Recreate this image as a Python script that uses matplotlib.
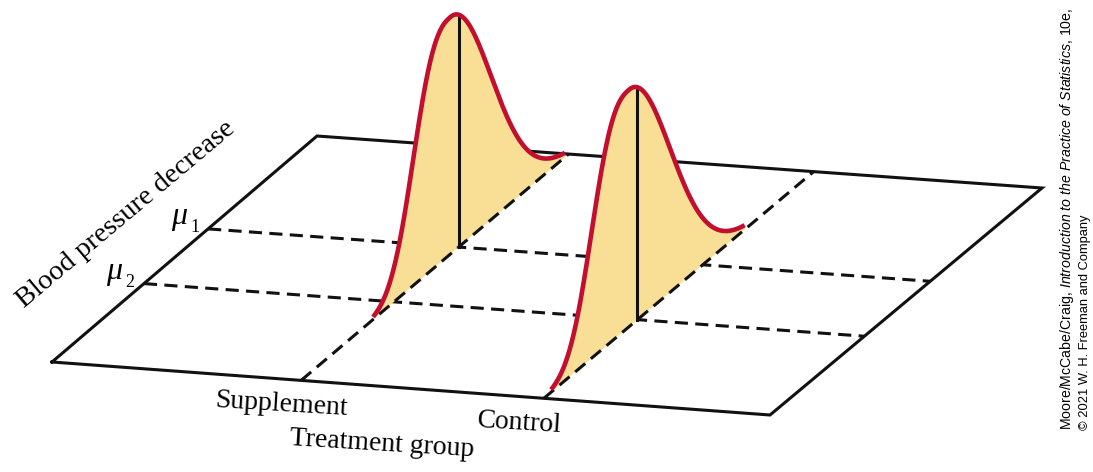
"""
Two-group comparison sketch: blood pressure decrease for Supplement vs Control,
drawn as density curves standing on an oblique (pseudo-3D) plane.
"""

import numpy as np
import matplotlib.pyplot as plt

plt.rcParams['mathtext.fontset'] = 'custom'
plt.rcParams['mathtext.rm'] = 'Liberation Sans'
plt.rcParams['mathtext.it'] = 'Liberation Sans:italic'

# ----------------------------------------------------------------------
# Data
# ----------------------------------------------------------------------
groups = ["Supplement", "Control"]
group_pos = [0.347, 0.685]        # position along the treatment-group axis
mu_names = ["1", "2"]
mu_pos = [0.589, 0.347]           # position along the blood-pressure axis
group_mu = [0, 1]                 # which mean each group's curve is centred on

peak_height = 237.0               # curve height (pixels on the page)
mode_shift = -0.03                # the drawn bump leans a little to the left
spread_left, power_left = 0.166, 2.7
sigma_right = 0.151
t_min, t_max = -0.32, 0.3975      # extent of each curve along the BP axis

# corners of the ground plane (page pixels, y down)
BL, BR = np.array([52.0, 362.0]), np.array([770.0, 415.0])
TL, TR = np.array([317.0, 136.0]), np.array([1042.0, 188.0])

RED = "#C20E2F"
FILL = "#F9DE96"
INK = "#111111"


def plane(u, v):
    """Bilinear map of plane coords (u, v) in [0, 1] onto the page."""
    u = np.asarray(u, float)[..., None]
    v = np.asarray(v, float)[..., None]
    p = (1 - u) * (1 - v) * BL + u * (1 - v) * BR + (1 - u) * v * TL + u * v * TR
    return p[..., 0], p[..., 1]


def bell(t):
    tau = np.asarray(t, float) - mode_shift
    left = np.exp(-(np.abs(tau) / spread_left) ** power_left)
    right = np.exp(-0.5 * (tau / sigma_right) ** 2)
    return peak_height * np.where(tau < 0, left, right)


fig = plt.figure(figsize=(10.93, 4.72), dpi=100)
ax = fig.add_axes([0, 0, 1, 1])
ax.set_xlim(0, 1093)
ax.set_ylim(472, 0)
ax.axis("off")

# ground plane outline
cx, cy = plane([0, 1, 1, 0, 0], [0, 0, 1, 1, 0])
ax.plot(cx, cy, color=INK, lw=2.2, solid_joinstyle="miter", zorder=1)

# mean lines across the plane (behind the curves)
for m in mu_pos:
    x, y = plane([0, 1], [m, m])
    ax.plot(x, y, color=INK, lw=2.2, dashes=(4.3, 2.4), zorder=1)

# group lines along the plane (drawn over the fills)
for g in group_pos:
    x, y = plane([g, g], [0, 1])
    ax.plot(x, y, color=INK, lw=2.2, dashes=(4.3, 2.4), zorder=3)

# density curves
t = np.linspace(t_min, t_max, 400)
for g, k in zip(group_pos, group_mu):
    m = mu_pos[k]
    bx, by = plane(np.full_like(t, g), m + t)
    z = bell(t)
    ax.fill(np.r_[bx, bx[::-1]], np.r_[by - z, by[::-1]],
            color=FILL, lw=0, zorder=2)
    x0, y0 = plane(g, m)
    ax.plot([x0, x0], [y0, y0 - bell(0.0)], color=INK, lw=2.2, zorder=4)
    ax.plot(bx, by - z, color=RED, lw=3.3, solid_capstyle="butt", zorder=5)

# axis labels
serif = "Liberation Serif"
ax.text(130, 219, "Blood pressure decrease", family=serif, fontsize=20.5,
        rotation=40, rotation_mode="anchor", ha="center", va="baseline")
ax.text(281, 411, groups[0], family=serif, fontsize=20, rotation=-3.5,
        rotation_mode="anchor", ha="center", va="baseline")
ax.text(519, 430, groups[1], family=serif, fontsize=20, rotation=-3.5,
        rotation_mode="anchor", ha="center", va="baseline")
ax.text(382, 451, "Treatment group", family=serif, fontsize=20, rotation=-3.5,
        rotation_mode="anchor", ha="center", va="baseline")

# mean markers on the left edge
for (mx, my), name in zip([(171, 224), (106, 279)], mu_names):
    ax.text(mx, my, "\u03bc", family=serif, style="italic", fontsize=23,
            ha="left", va="baseline")
    ax.text(mx + 19, my + 8, name, family=serif, fontsize=13,
            ha="left", va="baseline")

# source credit
ax.text(1071, 430,
        r"Moore/McCabe/Craig, $\mathit{Introduction\ to\ the\ Practice\ of\ Statistics}$, 10e,",
        family="Liberation Sans", fontsize=10.2, rotation=90,
        rotation_mode="anchor", ha="left", va="baseline")
ax.text(1088, 430, "\u00a9 2021 W. H. Freeman and Company",
        family="Liberation Sans", fontsize=9.3, rotation=90,
        rotation_mode="anchor", ha="left", va="baseline")

fig.savefig("out.png", dpi=100)
